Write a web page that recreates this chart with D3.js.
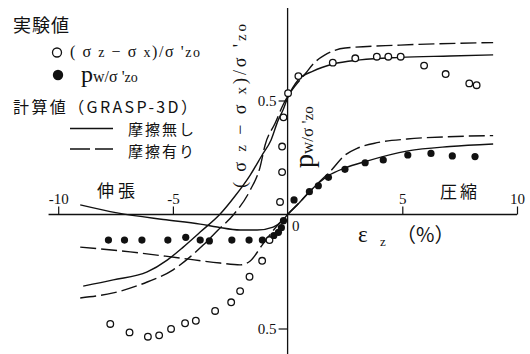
<!DOCTYPE html>
<html>
<head>
<meta charset="utf-8">
<script src="https://cdn.jsdelivr.net/npm/d3@7"></script>
<style>
  body { margin: 0; background: #fff; }
  svg { display: block; }
  text { font-family: "Liberation Serif", "Noto Sans CJK JP", serif; fill: #111; }
  .jp { font-family: "Noto Sans CJK JP", sans-serif; }
</style>
</head>
<body>
<svg id="chart" width="530" height="354"></svg>
<script>
/** datos leidos del grafico **/
// experimental (σz-σx)/σ'zo
var expSigX = [-7.73, -6.89, -6.09, -5.60, -5.08, -4.47, -4.00, -3.16, -2.46, -2.07, -1.66, -1.11, -0.79,
               -0.33, -0.24, -0.24, -0.18, 0.02, 0.47, 1.97, 2.95, 3.89, 4.39, 4.93, 5.95, 6.89, 7.92, 8.24];
var expSigY = [-0.480, -0.517, -0.536, -0.530, -0.502, -0.477, -0.466, -0.423, -0.385, -0.336, -0.273, -0.203, -0.112,
               0.055, 0.186, 0.298, 0.426, 0.532, 0.607, 0.666, 0.685, 0.692, 0.692, 0.692, 0.653, 0.616, 0.575, 0.567];
// experimental pw/σ'zo
var expPwX = [-7.81, -7.11, -6.35, -5.22, -4.44, -3.81, -3.41, -2.43, -1.68, -1.10, -0.60, -0.40, -0.27, -0.18,
              0.28, 0.95, 1.34, 1.78, 2.50, 3.38, 4.17, 5.24, 6.25, 7.18, 8.17];
var expPwY = [-0.112, -0.112, -0.112, -0.112, -0.100, -0.112, -0.116, -0.112, -0.112, -0.112, -0.092, -0.078, -0.058, -0.027,
              0.064, 0.100, 0.126, 0.163, 0.198, 0.227, 0.239, 0.261, 0.268, 0.257, 0.254];

// GRASP-3D, sin friccion (solida) y con friccion (discontinua)
var calSigX = [-8.91, -7.60, -6.12, -5.25, -4.55, -3.81, -2.94, -2.29, -1.63, -1.11, -0.72, -0.41, -0.20, 0, 0.46, 1.11, 1.98, 3.16, 4.90, 7.08, 8.96];
var calSigY = [-0.314, -0.287, -0.252, -0.200, -0.143, -0.077, 0.002, 0.081, 0.173, 0.261, 0.327, 0.414, 0.458, 0.511, 0.590, 0.629, 0.660, 0.678, 0.689, 0.695, 0.700];
var calSigFX = [-9.04, -7.60, -6.12, -4.99, -4.25, -3.68, -3.03, -2.37, -1.63, -1.20, -0.98, -0.54, -0.20, 0.02, 0.33, 0.76, 1.20, 1.63, 2.51, 4.90, 8.96];
var calSigFY = [-0.366, -0.344, -0.296, -0.243, -0.186, -0.134, -0.068, -0.002, 0.107, 0.208, 0.305, 0.401, 0.480, 0.520, 0.564, 0.616, 0.669, 0.700, 0.730, 0.743, 0.754];
var calPwX = [-9.04, -7.43, -5.42, -3.81, -3.07, -2.07, -1.33, -0.63, -0.20, 0, 0.46, 0.94, 1.76, 2.51, 3.38, 5.25, 7.08, 8.96];
var calPwY = [0.042, 0.007, -0.022, -0.042, -0.055, -0.068, -0.068, -0.055, -0.024, 0, 0.046, 0.099, 0.169, 0.204, 0.232, 0.279, 0.298, 0.309];
var calPwFX = [-9.04, -6.86, -4.68, -2.94, -2.07, -1.63, -1.11, -0.54, 0, 0.54, 1.20, 1.85, 2.51, 3.03, 3.90, 5.21, 6.95, 8.96];
var calPwFY = [-0.143, -0.164, -0.191, -0.213, -0.221, -0.204, -0.134, -0.059, 0, 0.055, 0.125, 0.188, 0.261, 0.290, 0.315, 0.331, 0.341, 0.346];

var xTicks = [-10, -5, 5, 10];
var yTicks = [0.5, -0.5];

var zip = function(xs, ys) { return xs.map(function(v, i) { return [v, ys[i]]; }); };

/** MAIN **/
var svg = d3.select("#chart");
var x = d3.scaleLinear().domain([-10, 10]).range([58.2, 517]);
var y = d3.scaleLinear().domain([-0.5, 0.5]).range([328.5, 100.5]);

// ejes
svg.append("line")
  .attr("x1", x(-10.42)).attr("x2", x(10))
  .attr("y1", y(0)).attr("y2", y(0))
  .attr("stroke", "#111").attr("stroke-width", 1.3);
svg.append("line")
  .attr("x1", x(0)).attr("x2", x(0))
  .attr("y1", 8).attr("y2", 354)
  .attr("stroke", "#111").attr("stroke-width", 1.3);

var gx = svg.append("g").attr("transform", "translate(0," + y(0) + ")")
  .call(d3.axisTop(x).tickValues(xTicks).tickSize(8).tickPadding(3)
    .tickFormat(function(d) { return String(d); }));
var gy = svg.append("g").attr("transform", "translate(" + x(0) + ",0)")
  .call(d3.axisLeft(y).tickValues(yTicks).tickSize(9).tickPadding(2)
    .tickFormat(function() { return "0.5"; }));
[gx, gy].forEach(function(g) {
  g.select(".domain").remove();
  g.selectAll(".tick line").attr("stroke", "#111").attr("stroke-width", 1.2);
  g.selectAll(".tick text").attr("font-family", "Liberation Serif").attr("font-size", 15).attr("fill", "#111");
});

svg.append("text").attr("x", 292).attr("y", 231).attr("font-size", 15).text("0");

// curvas calculadas
var line = d3.line()
  .x(function(d) { return x(d[0]); })
  .y(function(d) { return y(d[1]); })
  .curve(d3.curveMonotoneX);

var curves = [
  { pts: zip(calSigX, calSigY), dash: null },
  { pts: zip(calSigFX, calSigFY), dash: "16,5" },
  { pts: zip(calPwX, calPwY), dash: null },
  { pts: zip(calPwFX, calPwFY), dash: "16,5" }
];
svg.selectAll("path.curve")
  .data(curves)
  .enter()
  .append("path")
  .attr("class", "curve")
  .attr("d", function(d) { return line(d.pts); })
  .attr("fill", "none")
  .attr("stroke", "#111")
  .attr("stroke-width", 1.4)
  .attr("stroke-dasharray", function(d) { return d.dash; });

// puntos experimentales
svg.selectAll("circle.sig")
  .data(zip(expSigX, expSigY))
  .enter()
  .append("circle")
  .attr("class", "sig")
  .attr("cx", function(d) { return x(d[0]); })
  .attr("cy", function(d) { return y(d[1]); })
  .attr("r", 3.3)
  .attr("fill", "#fff")
  .attr("stroke", "#111")
  .attr("stroke-width", 1.3);

svg.selectAll("circle.pw")
  .data(zip(expPwX, expPwY))
  .enter()
  .append("circle")
  .attr("class", "pw")
  .attr("cx", function(d) { return x(d[0]); })
  .attr("cy", function(d) { return y(d[1]); })
  .attr("r", 3.6)
  .attr("fill", "#111");

// rotulos
svg.append("text").attr("class", "jp").attr("x", 97).attr("y", 197)
  .attr("font-size", 17).attr("textLength", 38).text("伸張");
svg.append("text").attr("class", "jp").attr("x", 440).attr("y", 198)
  .attr("font-size", 17).attr("textLength", 37).text("圧縮");

svg.append("text").attr("x", 358).attr("y", 242).attr("font-size", 23).text("ε");
svg.append("text").attr("x", 380).attr("y", 246).attr("font-size", 13).text("z");
svg.append("text").attr("class", "jp").attr("x", 396).attr("y", 242).attr("font-size", 20).text("（%）");

// etiquetas verticales
var ly = svg.append("text").attr("transform", "translate(246,106) rotate(-90)")
  .attr("text-anchor", "middle").attr("font-size", 18)
  .attr("textLength", 164).attr("lengthAdjust", "spacing");
ly.append("tspan").text("( σ ");
ly.append("tspan").attr("font-size", 15).text("z");
ly.append("tspan").text(" − σ ");
ly.append("tspan").attr("font-size", 15).text("x");
ly.append("tspan").text(")/σ '");
ly.append("tspan").attr("font-size", 15).text("zo");

var lp = svg.append("text").attr("transform", "translate(313,168) rotate(-90)")
  .attr("font-size", 17);
lp.append("tspan").attr("font-size", 28).text("p");
lp.append("tspan").text("w/σ '");
lp.append("tspan").attr("font-size", 15).text("zo");

// leyenda
svg.append("text").attr("class", "jp").attr("x", 13).attr("y", 32)
  .attr("font-size", 18).attr("textLength", 56).text("実験値");

svg.append("circle").attr("cx", 57).attr("cy", 52.5).attr("r", 4.5)
  .attr("fill", "#fff").attr("stroke", "#111").attr("stroke-width", 1.3);
var l1 = svg.append("text").attr("x", 70).attr("y", 57).attr("font-size", 16)
  .attr("textLength", 130).attr("lengthAdjust", "spacing");
l1.append("tspan").text("( σ ");
l1.append("tspan").attr("font-size", 14).text("z");
l1.append("tspan").text(" − σ ");
l1.append("tspan").attr("font-size", 14).text("x");
l1.append("tspan").text(")/σ '");
l1.append("tspan").attr("font-size", 14).text("zo");

svg.append("circle").attr("cx", 58).attr("cy", 75).attr("r", 5.2).attr("fill", "#111");
var l2 = svg.append("text").attr("x", 81).attr("y", 82).attr("font-size", 16);
l2.append("tspan").attr("font-size", 24).text("p");
l2.append("tspan").text("w/σ '");
l2.append("tspan").attr("font-size", 14).text("zo");

svg.append("text").attr("class", "jp").attr("x", 13).attr("y", 113)
  .attr("font-size", 16).attr("textLength", 184).attr("lengthAdjust", "spacing")
  .text("計算値（GRASP-3D）");

svg.append("line").attr("x1", 70).attr("x2", 113).attr("y1", 128.5).attr("y2", 128.5)
  .attr("stroke", "#111").attr("stroke-width", 1.3);
svg.append("text").attr("class", "jp").attr("x", 128).attr("y", 135)
  .attr("font-size", 15).attr("textLength", 66).text("摩擦無し");

svg.append("line").attr("x1", 70).attr("x2", 113).attr("y1", 149).attr("y2", 149)
  .attr("stroke", "#111").attr("stroke-width", 1.3).attr("stroke-dasharray", "20,5");
svg.append("text").attr("class", "jp").attr("x", 128).attr("y", 157)
  .attr("font-size", 15).attr("textLength", 66).text("摩擦有り");
</script>
</body>
</html>
